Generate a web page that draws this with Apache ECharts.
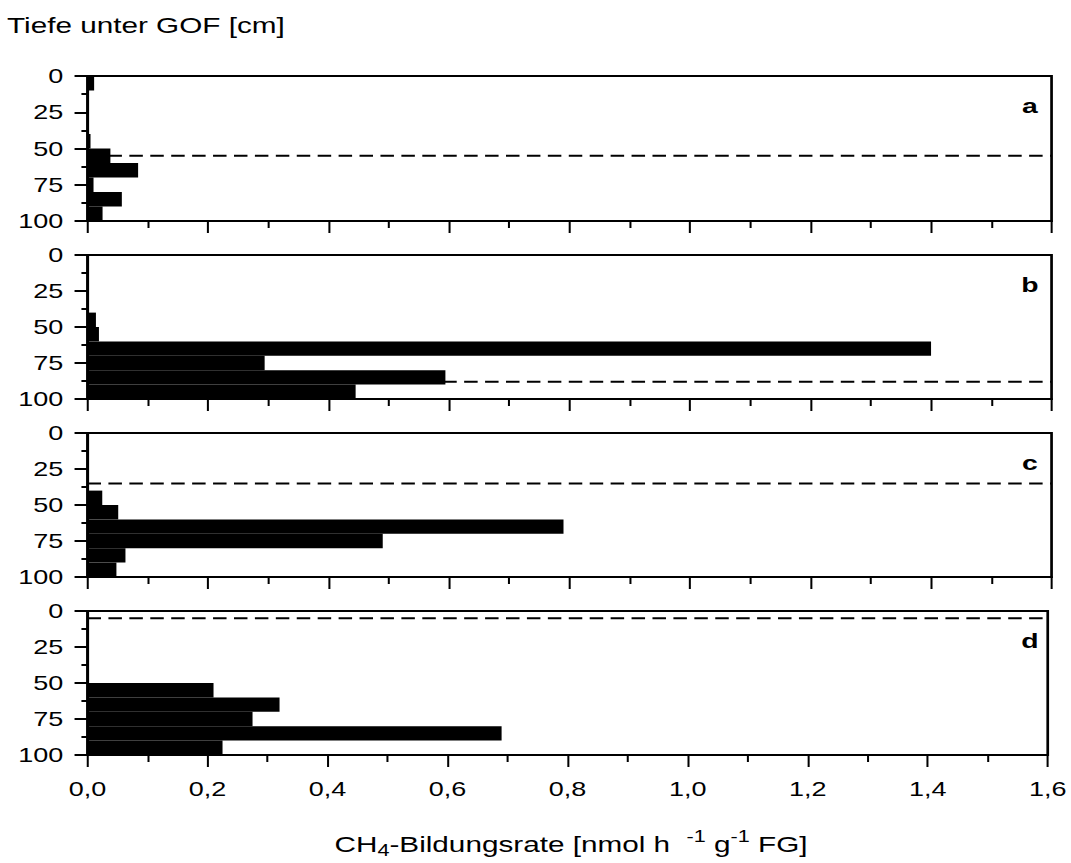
<!DOCTYPE html>
<html>
<head>
<meta charset="utf-8">
<script src="https://cdn.jsdelivr.net/npm/echarts@6/dist/echarts.min.js"></script>
<style>
html,body{margin:0;padding:0;background:#fff;overflow:hidden;}
#wrap{width:1071px;height:863px;overflow:hidden;}
#chart{width:793.33px;height:863px;transform:scaleX(1.35);transform-origin:0 0;}
</style>
</head>
<body>
<div id="wrap"><div id="chart"></div></div>
<script>
// ---- data ----
const depthTop    = [0, 10, 20, 30, 40, 50, 60, 70, 80, 90];
const depthBottom = [10, 20, 30, 40, 50, 60, 70, 80, 90, 100];
const rateA = [0.011, 0.0, 0.0, 0.0, 0.005, 0.038, 0.084, 0.010, 0.057, 0.025];
const rateB = [0.0, 0.0, 0.0, 0.0, 0.014, 0.019, 1.40, 0.294, 0.594, 0.445];
const rateC = [0.0, 0.0, 0.0, 0.0, 0.0245, 0.051, 0.79, 0.49, 0.063, 0.048];
const rateD = [0.0, 0.0, 0.0, 0.0, 0.0, 0.21, 0.32, 0.275, 0.69, 0.225];
const dashedDepth = [55, 88, 35, 5];
const panelLetters = ['a', 'b', 'c', 'd'];
const xTicks = [0, 0.2, 0.4, 0.6, 0.8, 1.0, 1.2, 1.4, 1.6];
const yTicks = [0, 25, 50, 75, 100];
const yTitle = 'Tiefe unter GOF [cm]';
const xTitleParts = ['CH', '4', '-Bildungsrate [nmol h  ', '-1', ' g', '-1', ' FG]'];

const rates = [rateA, rateB, rateC, rateD];

// ---- layout (unstretched coordinates; page is scaled horizontally) ----
const K = 1.35;
const gridLeft = 87.5 / K;
const gridRight = 793.33 - 1052 / K;
const gridTops = [76, 255, 433, 611];
const gridHeights = [145, 144, 144, 144];
const FONT = "'Liberation Sans', Arial, Helvetica, sans-serif";

const chart = echarts.init(document.getElementById('chart'), null, {renderer: 'svg'});

const grids = [], xAxes = [], yAxes = [], series = [], graphics = [];

function renderBar(params, api) {
  const p0 = api.coord([0, api.value(1)]);
  const p1 = api.coord([api.value(0), api.value(2)]);
  return {
    type: 'rect',
    shape: {x: p0[0], y: p0[1], width: p1[0] - p0[0], height: p1[1] - p0[1]},
    style: {fill: '#000'}
  };
}

for (let i = 0; i < 4; i++) {
  grids.push({
    left: gridLeft, right: gridRight, top: gridTops[i], height: gridHeights[i],
    show: true, borderColor: '#000', borderWidth: 2, backgroundColor: 'transparent'
  });
  xAxes.push({
    type: 'value', gridIndex: i, min: 0, max: 1.6, interval: 0.2,
    axisLine: {show: true, onZero: false, lineStyle: {color: '#000', width: 2}},
    axisTick: {show: true, inside: false, length: 12, lineStyle: {color: '#000', width: 1.5}},
    minorTick: {show: true, splitNumber: 2, length: 7, lineStyle: {color: '#000', width: 1.5}},
    splitLine: {show: false},
    axisLabel: {
      show: i === 3, margin: 24, fontSize: 20, color: '#000', fontFamily: FONT,
      formatter: v => v.toFixed(1).replace('.', ',')
    }
  });
  yAxes.push({
    type: 'value', gridIndex: i, min: 0, max: 100, interval: 25, inverse: true,
    axisLine: {show: true, onZero: false, lineStyle: {color: '#000', width: 2}},
    axisTick: {show: true, inside: false, length: 9.6, lineStyle: {color: '#000', width: 2}},
    minorTick: {show: true, splitNumber: 2, length: 4.5, lineStyle: {color: '#000', width: 2}},
    splitLine: {show: false},
    axisLabel: {show: true, margin: 18, fontSize: 20, color: '#000', fontFamily: FONT,
      formatter: v => yTicks.indexOf(v) >= 0 ? String(v) : ''}
  });
  series.push({
    type: 'custom', xAxisIndex: i, yAxisIndex: i,
    renderItem: renderBar,
    encode: {x: 0, y: [1, 2]},
    data: rates[i].map((v, j) => [v, depthTop[j], depthBottom[j]]),
    silent: true, z: 2
  });
  series.push({
    type: 'line', xAxisIndex: i, yAxisIndex: i,
    data: [[xTicks[0], dashedDepth[i]], [xTicks[xTicks.length - 1], dashedDepth[i]]],
    symbol: 'none', silent: true, z: 1,
    lineStyle: {color: '#000', width: 2, type: [10, 5.5]}
  });
  graphics.push({
    type: 'text', x: 1030 / K, y: gridTops[i] + 29,
    style: {text: panelLetters[i], fill: '#000', font: "bold 21px " + FONT,
      textAlign: 'center', textVerticalAlign: 'middle'}
  });
}

const option = {
  backgroundColor: '#fff',
  animation: false,
  title: [
    {text: yTitle, left: 5.2, top: 14, padding: 0,
      textStyle: {fontSize: 22, fontWeight: 'normal', color: '#000', fontFamily: FONT}},
    {text: '{n|' + xTitleParts[0] + '}{sub|' + xTitleParts[1] + '}{n|' + xTitleParts[2] + '}{sup|' +
        xTitleParts[3] + '}{n|' + xTitleParts[4] + '}{sup|' + xTitleParts[5] + '}{n|' + xTitleParts[6] + '}',
      left: 571 / K, top: 829, textAlign: 'center', padding: 0,
      textStyle: {fontSize: 22, fontWeight: 'normal', color: '#000', fontFamily: FONT,
        rich: {
          n: {fontSize: 22, color: '#000', fontFamily: FONT, verticalAlign: 'middle', lineHeight: 30},
          sub: {fontSize: 16, color: '#000', fontFamily: FONT, verticalAlign: 'bottom', lineHeight: 18},
          sup: {fontSize: 16, color: '#000', fontFamily: FONT, verticalAlign: 'top', lineHeight: 14}
        }}}
  ],
  grid: grids,
  xAxis: xAxes,
  yAxis: yAxes,
  series: series,
  graphic: graphics
};
chart.setOption(option);
</script>
</body>
</html>
